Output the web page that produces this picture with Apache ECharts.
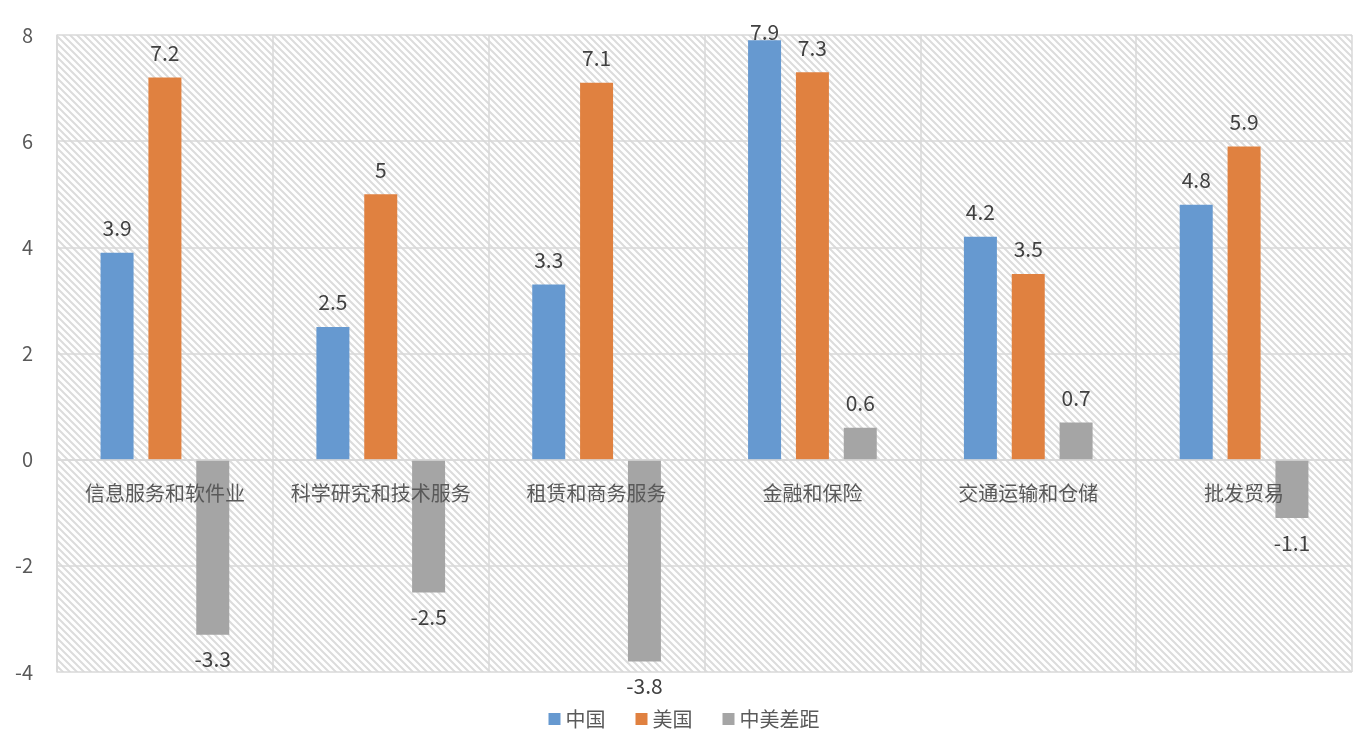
<!DOCTYPE html>
<html>
<head>
<meta charset="utf-8">
<script src="https://cdn.jsdelivr.net/npm/echarts@6/dist/echarts.min.js"></script>
<style>
  html, body { margin: 0; padding: 0; background: #fff; }
  #chart { width: 1368px; height: 756px; }
</style>
</head>
<body>
<div id="chart"></div>
<script>
const categories = ['信息服务和软件业', '科学研究和技术服务', '租赁和商务服务', '金融和保险', '交通运输和仓储', '批发贸易'];
const chinaValues = [3.9, 2.5, 3.3, 7.9, 4.2, 4.8];
const usValues = [7.2, 5, 7.1, 7.3, 3.5, 5.9];
const gapValues = [-3.3, -2.5, -3.8, 0.6, 0.7, -1.1];
const seriesNames = ['中国', '美国', '中美差距'];
const yTicks = { min: -4, max: 8, interval: 2 };

// diagonal hatch tile for the plot background
function hatchTile() {
  const s = 7;
  const c = document.createElement('canvas');
  c.width = s; c.height = s;
  const ctx = c.getContext('2d');
  ctx.fillStyle = '#ffffff';
  ctx.fillRect(0, 0, s, s);
  ctx.strokeStyle = '#dcdcdc';
  ctx.lineWidth = 2;
  ctx.beginPath();
  ctx.moveTo(-1, -1); ctx.lineTo(s + 1, s + 1);
  ctx.moveTo(-1, s - 1); ctx.lineTo(1, s + 1);
  ctx.moveTo(s - 1, -1); ctx.lineTo(s + 1, 1);
  ctx.stroke();
  return c;
}

const font = "'Noto Sans CJK SC', 'Noto Sans', sans-serif";
const gridColor = '#d9d9d9';
const gridTop = 35, gridBottom = 84, chartH = 756;
const plotH = chartH - gridTop - gridBottom;
// move the category axis up so it sits on the zero line
const zeroOffset = -plotH * (0 - yTicks.min) / (yTicks.max - yTicks.min);

const myChart = echarts.init(document.getElementById('chart'));

const labelStyle = {
  show: true,
  position: 'top',
  distance: 14,
  fontSize: 21,
  color: '#404040',
  fontFamily: font
};

function makeSeries(name, data, color) {
  return {
    name: name,
    type: 'bar',
    data: data.map(v => ({
      value: v,
      label: v < 0 ? { position: 'bottom' } : undefined
    })),
    barWidth: 33,
    barGap: '45%',
    itemStyle: { color: color },
    label: labelStyle,
    // keep labels from leaving the chart at the top
    labelLayout: p => (p.labelRect.y < 22 ? { dy: 22 - p.labelRect.y } : {})
  };
}

const option = {
  animation: false,
  textStyle: { fontFamily: font },
  grid: {
    left: 57,
    right: 16,
    top: gridTop,
    bottom: gridBottom,
    show: true,
    borderWidth: 0,
    backgroundColor: { image: hatchTile(), repeat: 'repeat' }
  },
  legend: {
    data: seriesNames,
    bottom: 22,
    itemWidth: 12,
    itemHeight: 12,
    itemGap: 30,
    icon: 'rect',
    textStyle: { fontSize: 20, color: '#595959', fontFamily: font }
  },
  xAxis: {
    type: 'category',
    data: categories,
    offset: zeroOffset,
    z: 5,
    axisLine: { onZero: false, lineStyle: { color: gridColor, width: 1.5 } },
    axisTick: { show: false },
    axisLabel: { interval: 0, margin: 24, fontSize: 20, color: '#595959', fontFamily: font },
    splitLine: { show: true, lineStyle: { color: gridColor, width: 1.5 } }
  },
  yAxis: {
    type: 'value',
    min: yTicks.min,
    max: yTicks.max,
    interval: yTicks.interval,
    axisLine: { show: true, lineStyle: { color: gridColor, width: 1.5 } },
    axisTick: { show: false },
    axisLabel: { margin: 24, fontSize: 20, color: '#595959', fontFamily: font },
    splitLine: { show: true, lineStyle: { color: gridColor, width: 1.5 } }
  },
  series: [
    makeSeries(seriesNames[0], chinaValues, '#6699d0'),
    makeSeries(seriesNames[1], usValues, '#e08140'),
    makeSeries(seriesNames[2], gapValues, '#a5a5a5')
  ]
};

option && myChart.setOption(option);
</script>
</body>
</html>
